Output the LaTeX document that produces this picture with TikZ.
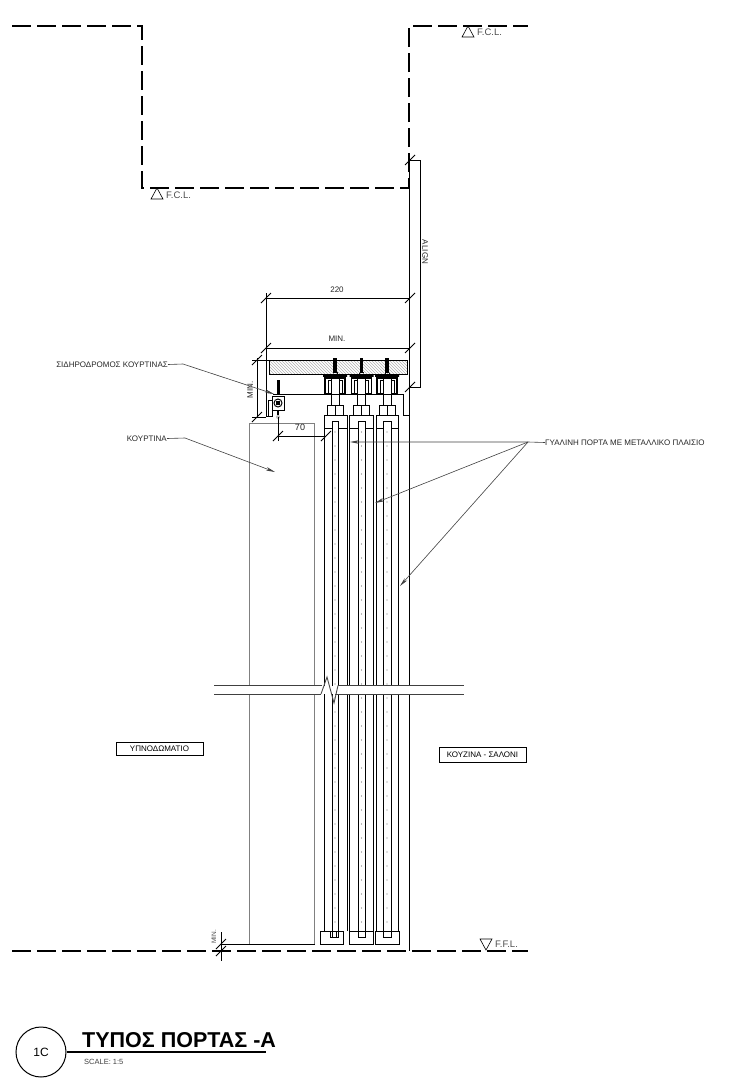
\documentclass[tikz,border=0pt]{standalone}
\usepackage{fontspec}
\setmainfont{Liberation Sans}
\usetikzlibrary{patterns,arrows.meta}
\tikzset{
  x=1pt,y=-1pt,
  wall/.style={line width=2pt,dash pattern=on 19pt off 6pt},
  thin line/.style={line width=0.8pt,black},
  grey line/.style={line width=0.8pt,black!50},
  dimline/.style={line width=0.7pt,black},
  leader/.style={line width=0.6pt,black!75,-{Stealth[length=9pt,width=3.5pt]}},
  lbl/.style={font=\fontsize{8}{9}\selectfont,text=black!85,inner sep=0pt},
  level/.style={font=\fontsize{9.5}{10}\selectfont,text=black!70,inner sep=0pt,anchor=west},
  room/.style={draw,line width=0.7pt,font=\fontsize{8}{9}\selectfont,inner sep=0pt,minimum height=13pt},
}
\newcommand{\tick}[2]{\draw[line width=0.9pt] (#1-5,#2+5) -- (#1+5,#2-5);}
\begin{document}
\begin{tikzpicture}
\useasboundingbox (0,0) rectangle (754,1084);
% walls
\draw[wall] (12,26) -- (142,26) -- (142,188) -- (409,188) -- (409,26) -- (528,26);
\draw[wall] (12,951) -- (528,951);
% curtain
\draw[grey line] (249,423) rectangle (314,944);
% doors
\foreach \a/\b/\c/\d/\dt in {324/332/338/347/335,349/358/365/373/361.5,376/383/391/398/387}{
  \draw[thin line] (\a,415) -- (\a,931);
  \draw[thin line] (\d,415) -- (\d,931);
  \draw[thin line] (\a,415) -- (\d,415);
  \draw[thin line] (\a,428) -- (\b,428) (\c,428) -- (\d,428);
  \draw[thin line] (\b,421) -- (\b,937) -- (\c,937) -- (\c,421) -- cycle;
  \foreach \yy in {432,446,...,930}{\fill[black!55] (\dt,\yy) circle (0.6);}
  % carrier
  \draw[thin line] (\dt-8,415) -- (\dt-8,405) -- (\dt+8,405) -- (\dt+8,415) (\dt,405) -- (\dt,415);
  \draw[thin line] (\dt-4,405) -- (\dt-4,378) (\dt+4,405) -- (\dt+4,378);
  \draw[line width=1.1pt] (\dt-10,394) -- (\dt-10,378) -- (\dt+10,378) -- (\dt+10,394);
  \draw[line width=1.1pt] (\dt-12,376) rectangle (\dt+12,376);
  \draw[line width=1.4pt] (\dt-10,394) -- (\dt-4,394) (\dt+4,394) -- (\dt+10,394);
  \draw[thin line] (\dt-7,394) -- (\dt-7,380) -- (\dt-4,380) (\dt+7,394) -- (\dt+7,380) -- (\dt+4,380);
  \draw[line width=3.5pt] (\dt,360) -- (\dt,372);
  \draw[thin line] (\dt-2,372) -- (\dt-2,378) (\dt+2,372) -- (\dt+2,378);
}
% door feet
\draw[thin line] (320,931) rectangle (343,944);
\draw[thin line] (349,931) rectangle (373,944);
\draw[thin line] (375,931) rectangle (399,944);
\draw[thin line] (330,931) -- (330,937) -- (336,937) -- (336,931);
% wood board
\fill[pattern=north west lines,pattern color=black!30] (269,360) rectangle (407,374);
\draw[line width=1pt] (269,360) rectangle (407,374);
\foreach \dt in {335,361.5,387}{\draw[line width=3.5pt] (\dt,358) -- (\dt,373);}
% frame
\draw[line width=0.9pt] (266,293) -- (266,416) -- (272,416);
\draw[line width=0.9pt] (273,394) -- (399,394);
\draw[thin line] (399,394) -- (403,394) -- (403,415) -- (409,415);
\draw[thin line] (266,416) -- (272,416);
\draw[line width=1pt] (409,160) -- (409,951);
% curtain track
\draw[thin line] (268,400) rectangle (272,416);
\draw[line width=3pt] (278,380) -- (278,394);
\draw[line width=1pt] (272,396) rectangle (284,410);
\draw[line width=1pt] (278,403) circle (4);
\fill (276,401) rectangle (280,405);
\draw[line width=1.5pt] (278,410) -- (278,415);
\fill[black!25] (278,417) circle (2);
% break
\fill[white] (214,686) rectangle (464,694);
\draw[line width=0.8pt,black!75] (214,685.5) -- (322,685.5) (214,694) -- (321,694);
\draw[line width=0.8pt,black!75] (338,685.5) -- (464,685.5) (335,694) -- (464,694);
\draw[line width=0.9pt,black!70] (321,694) -- (327,677) -- (334,703) -- (338,685.5);
% dimensions
\coordinate (d220a) at (266,298); \coordinate (d220b) at (410,298);
\draw[dimline] (d220a) -- (d220b); \tick{266}{298} \tick{410}{298}
\node[lbl] (t220) at (337,290) {220};
\coordinate (dmina) at (266,348); \coordinate (dminb) at (410,348);
\draw[dimline] (dmina) -- (dminb); \tick{266}{348} \tick{410}{348}
\node[lbl] (tmin) at (337,339) {MIN.};
\coordinate (dva) at (257,358); \coordinate (dvb) at (257,417);
\draw[dimline] (252,360) -- (269,360) (252,417) -- (266,417);
\draw[dimline] (dva) -- (dvb); \tick{257}{360} \tick{257}{417}
\node[lbl,rotate=90] (tminv) at (250,390) {MIN.};
\coordinate (da) at (278,436); \coordinate (db) at (326,436);
\draw[dimline] (278,417) -- (278,441);
\draw[dimline] (da) -- (db); \tick{278}{436} \tick{326}{436}
\node[lbl,font=\fontsize{9}{10}\selectfont] (t70) at (300,427) {70};
\coordinate (aa) at (410,160); \coordinate (ab) at (410,387);
\draw[dimline] (aa) -- (420,160) -- (420,387) -- (ab); \tick{410}{160} \tick{410}{387}
\node[lbl,rotate=-90] (talign) at (425,252) {ALIGN};
\draw[dimline] (221,932) -- (221,961) (221,944) -- (315,944);
\tick{221}{944} \tick{221}{951}
\node[lbl,rotate=90,font=\fontsize{6.5}{7}\selectfont,text=black!70] (tminb) at (214,937) {MIN.};
% labels and leaders
\node[lbl,anchor=east] (l1) at (168,364.5) {ΣΙΔΗΡΟΔΡΟΜΟΣ ΚΟΥΡΤΙΝΑΣ};
\coordinate (l1k) at (183,364); \coordinate (l1e) at (274,394);
\draw[leader] (l1.east) -- (l1k) -- (l1e);
\node[lbl,anchor=east] (l2) at (167,438.5) {ΚΟΥΡΤΙΝΑ};
\coordinate (l2k) at (185,438); \coordinate (l2e) at (275,472);
\draw[leader] (l2.east) -- (l2k) -- (l2e);
\node[lbl,anchor=west] (l3) at (545,442.5) {ΓΥΑΛΙΝΗ ΠΟΡΤΑ ΜΕ ΜΕΤΑΛΛΙΚΟ ΠΛΑΙΣΙΟ};
\coordinate (l3k) at (528,442); \coordinate (e1) at (350,442); \coordinate (e2) at (375,503); \coordinate (e3) at (400,586);
\draw[leader] (l3.west) -- (l3k) -- (e1);
\draw[leader] (l3k) -- (e2);
\draw[leader] (l3k) -- (e3);
% rooms
\node[room,minimum width=87pt] (r1) at (159.5,749) {ΥΠΝΟΔΩΜΑΤΙΟ};
\node[room,minimum width=87pt,minimum height=15pt] (r2) at (482.5,754.5) {ΚΟΥΖΙΝΑ - ΣΑΛΟΝΙ};
% level marks
\draw[line width=0.6pt] (151,199) -- (157,188) -- (163,199) -- cycle;
\node[level] (f1) at (166,195) {F.C.L.};
\draw[line width=0.6pt] (462,37) -- (468,26) -- (474,37) -- cycle;
\node[level] (f2) at (477,32.5) {F.C.L.};
\draw[line width=0.6pt] (480,939) -- (492,939) -- (486,950) -- cycle;
\node[level] (f3) at (495,944) {F.F.L.};
% title
\node[draw,circle,line width=1pt,minimum size=50pt,inner sep=0pt,font=\fontsize{12}{13}\selectfont] (c) at (41,1052) {1C};
\draw[line width=1.6pt] (c.east) -- (266,1052);
\node[anchor=west,inner sep=0pt,font=\fontsize{21.5}{22}\bfseries\selectfont] (title) at (82,1040) {ΤΥΠΟΣ ΠΟΡΤΑΣ -Α};
\node[anchor=west,inner sep=0pt,font=\fontsize{7.5}{8}\selectfont,text=black!75] (scale) at (84,1062) {SCALE: 1:5};
\end{tikzpicture}
\end{document}
